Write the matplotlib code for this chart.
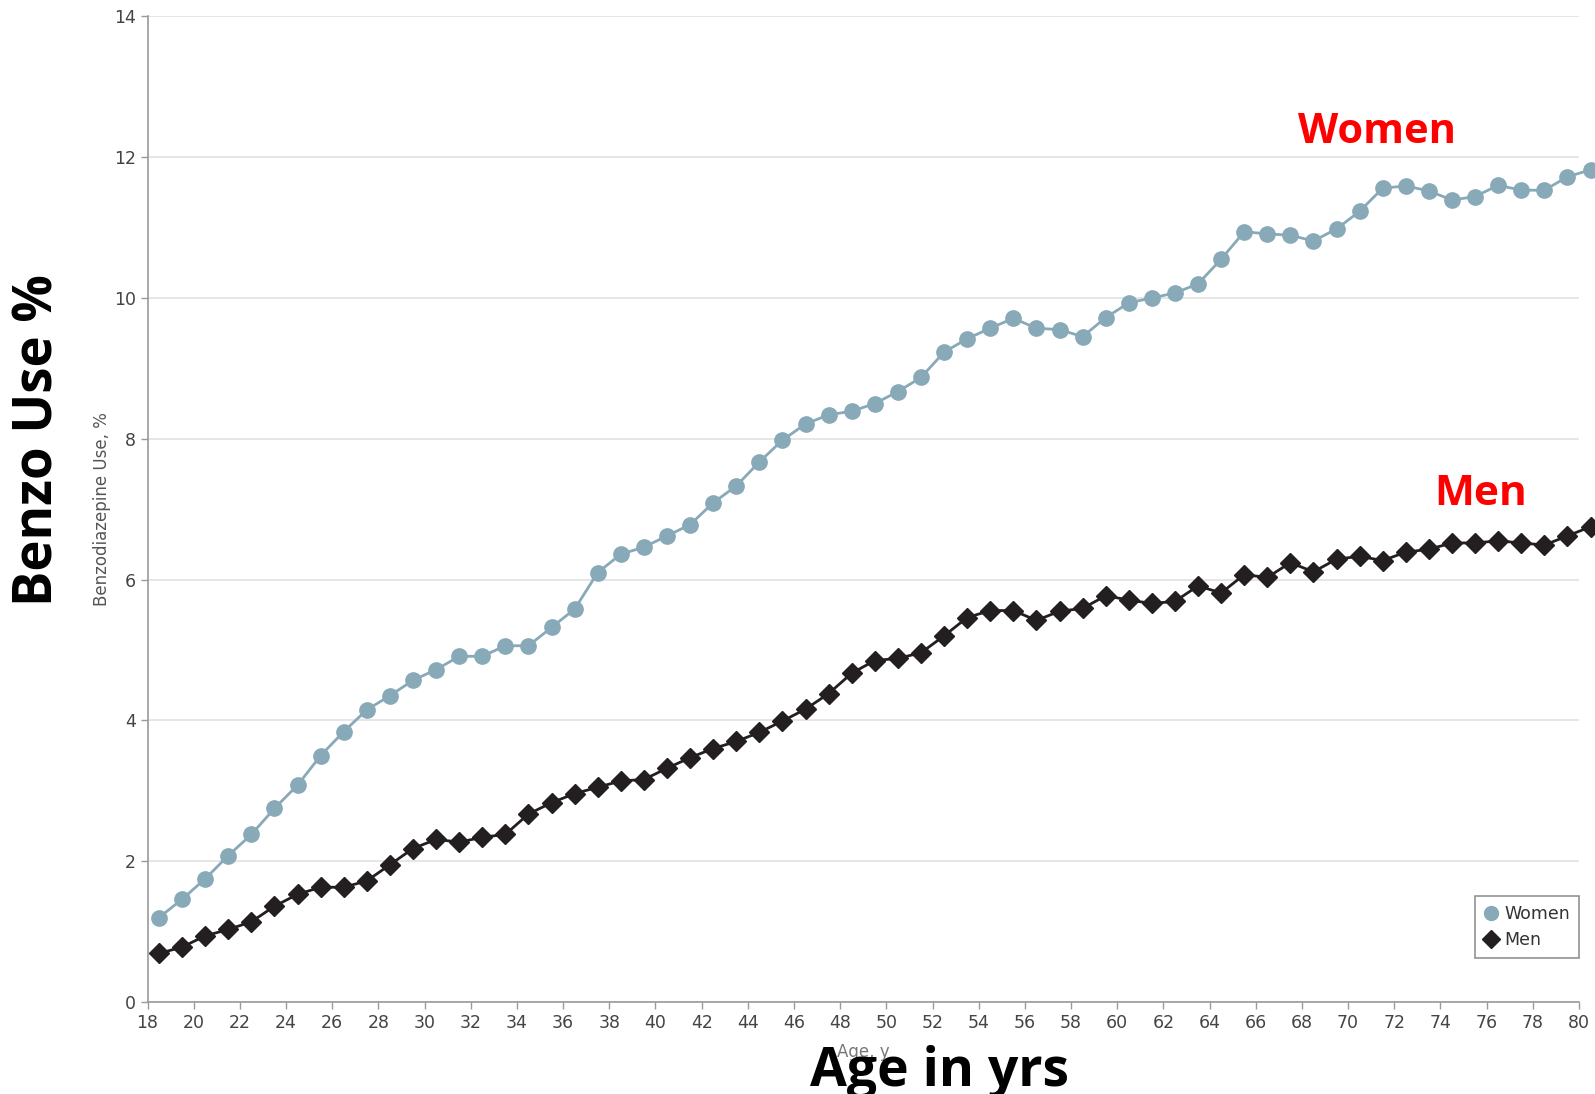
import matplotlib
matplotlib.use("Agg")
import matplotlib.pyplot as plt
from matplotlib.lines import Line2D
import numpy as np

ages = [18.5 + i for i in range(63)]
women = [1.20, 1.46, 1.75, 2.08, 2.38, 2.75, 3.08, 3.50, 3.84, 4.15,
         4.35, 4.57, 4.72, 4.91, 4.91, 5.06, 5.06, 5.32, 5.58, 6.10,
         6.36, 6.46, 6.62, 6.78, 7.09, 7.33, 7.67, 7.98, 8.21, 8.34,
         8.39, 8.50, 8.67, 8.87, 9.23, 9.42, 9.57, 9.71, 9.57, 9.55,
         9.45, 9.72, 9.93, 10.00, 10.07, 10.20, 10.55, 10.94, 10.91, 10.89,
         10.81, 10.98, 11.23, 11.56, 11.59, 11.52, 11.39, 11.44, 11.60, 11.53,
         11.53, 11.72, 11.82]
men = [0.69, 0.78, 0.94, 1.03, 1.14, 1.36, 1.53, 1.63, 1.63, 1.72,
       1.95, 2.18, 2.31, 2.27, 2.34, 2.38, 2.67, 2.83, 2.96, 3.05,
       3.14, 3.16, 3.32, 3.47, 3.60, 3.70, 3.83, 3.99, 4.16, 4.38,
       4.67, 4.85, 4.88, 4.96, 5.20, 5.46, 5.56, 5.56, 5.42, 5.55,
       5.59, 5.77, 5.71, 5.66, 5.69, 5.91, 5.81, 6.07, 6.03, 6.24,
       6.11, 6.29, 6.33, 6.27, 6.39, 6.43, 6.52, 6.52, 6.55, 6.52,
       6.49, 6.62, 6.75]
xticks = list(range(18, 81, 2))
yticks = list(range(0, 15, 2))

W, H = 1595, 1094
fig = plt.figure(figsize=(W / 100, H / 100), dpi=100)
left, right, top, bottom = 147.5, 1579, 16.3, 1002
ax = fig.add_axes([left / W, 1 - bottom / H, (right - left) / W, (bottom - top) / H])

small_font = ["Liberation Sans Narrow", "DejaVu Sans"]
women_c = "#87a9b8"
men_c = "#231f20"

ax.plot(ages, women, color=women_c, lw=2, marker="o", ms=11, mec=women_c,
        mfc=women_c, clip_on=False, zorder=3)
ax.plot(ages, men, color=men_c, lw=2, marker="D", ms=10, mec=men_c,
        mfc=men_c, clip_on=False, zorder=4)

ax.set_xlim(18, 80)
ax.set_ylim(0, 14)
ax.set_xticks(xticks)
ax.set_yticks(yticks)
ax.grid(axis="y", color="#e4e4e4", lw=1.3)
ax.set_axisbelow(True)
for s in ["top", "right"]:
    ax.spines[s].set_visible(False)
for s in ["left", "bottom"]:
    ax.spines[s].set_color("#9a9a9a")
    ax.spines[s].set_linewidth(1.2)
ax.tick_params(axis="both", colors="#9a9a9a", labelcolor="#444444",
               length=5, width=1, labelsize=12.5)
for lab in ax.get_xticklabels() + ax.get_yticklabels():
    lab.set_family(small_font)

ax.set_ylabel("Benzodiazepine Use, %", fontsize=12, color="#555555",
              family=small_font, labelpad=2)
ax.set_xlabel("Age, y", fontsize=12, color="#777777", family=small_font,
              labelpad=8)

handles = [Line2D([], [], ls="none", marker="o", ms=10, color=women_c),
           Line2D([], [], ls="none", marker="D", ms=9, color=men_c)]
leg = ax.legend(handles, ["Women", "Men"], loc="lower right",
                bbox_to_anchor=(1.0, 0.045), borderaxespad=0.0,
                frameon=True, fancybox=False,
                edgecolor="#777777", handlelength=0.8, handletextpad=0.4,
                borderpad=0.5, labelspacing=0.45,
                prop={"family": small_font, "size": 12.5})
leg.get_frame().set_linewidth(1.2)
for t in leg.get_texts():
    t.set_color("#333333")

big = ["Open Sans", "DejaVu Sans"]
fig.text(39 / W, 1 - 440 / H, "Benzo Use %", rotation=90, ha="center",
         va="center", fontsize=38, fontweight="bold", family=big, color="black")
fig.text(940 / W, 1 - 1086 / H, "Age in yrs", ha="center", va="baseline",
         fontsize=38.5, fontweight="bold", family=big, color="black")
fig.text(1377 / W, 1 - 143 / H, "Women", ha="center", va="baseline",
         fontsize=30, fontweight="bold", family=big, color="#ff0000")
fig.text(1481 / W, 1 - 505 / H, "Men", ha="center", va="baseline",
         fontsize=30.5, fontweight="bold", family=big, color="#ff0000")

fig.savefig("out.png", dpi=100, facecolor="white")
